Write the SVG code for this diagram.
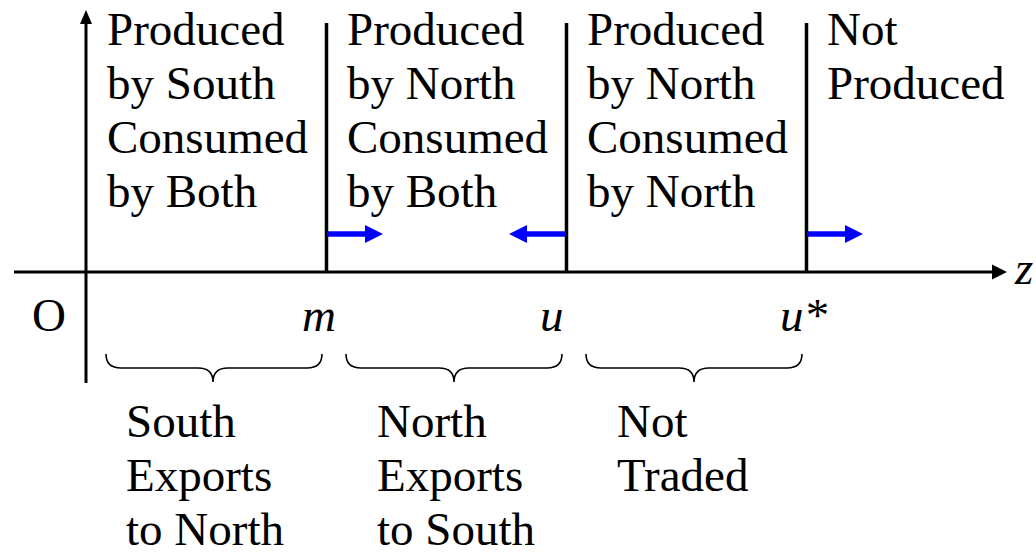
<svg xmlns="http://www.w3.org/2000/svg" width="1036" height="556" viewBox="0 0 1036 556">
<style>
text{font-family:"Liberation Serif","Times New Roman",serif;font-size:47px;fill:#000}
.it{font-style:italic}
.ax{stroke:#000;stroke-width:3;fill:none}
.bd{stroke:#000;stroke-width:3.5;fill:none}
.bl{stroke:#0000ff;stroke-width:5.5;fill:none}
.br{stroke:#000;stroke-width:1.6;fill:none}
</style>
<rect width="1036" height="556" fill="#fff"/>
<g id="connectors">
<line class="ax" x1="14" y1="272" x2="994" y2="272"/>
<polygon points="992,264.5 1007,272 992,279.5" fill="#000"/>
<line class="ax" x1="86" y1="383" x2="86" y2="22"/>
<polygon points="80,24 86,10 92,24" fill="#000"/>
<line class="bd" x1="326.5" y1="23" x2="326.5" y2="272"/>
<line class="bd" x1="566.5" y1="23" x2="566.5" y2="272"/>
<line class="bd" x1="806.5" y1="23" x2="806.5" y2="272"/>
<line class="bl" x1="327" y1="234" x2="367" y2="234"/>
<polygon points="365,225 383,234 365,243" fill="#0000ff"/>
<line class="bl" x1="566" y1="234" x2="525" y2="234"/>
<polygon points="527,225 509,234 527,243" fill="#0000ff"/>
<line class="bl" x1="807" y1="234" x2="847" y2="234"/>
<polygon points="845,225 863,234 845,243" fill="#0000ff"/>
</g>
<g id="braces">
<path class="br" d="M106,354 Q106,368 121,368 L198,368 Q213,368 213,382 Q213,368 228,368 L307,368 Q322,368 322,354"/>
<path class="br" d="M346,354 Q346,368 361,368 L439,368 Q454,368 454,382 Q454,368 469,368 L547,368 Q562,368 562,354"/>
<path class="br" d="M586,354 Q586,368 601,368 L679,368 Q694,368 694,382 Q694,368 709,368 L787,368 Q802,368 802,354"/>
</g>
<g id="region1">
<text x="107" y="45">Produced</text>
<text x="107" y="99">by South</text>
<text x="107" y="153">Consumed</text>
<text x="107" y="207">by Both</text>
</g>
<g id="region2">
<text x="347" y="45">Produced</text>
<text x="347" y="99">by North</text>
<text x="347" y="153">Consumed</text>
<text x="347" y="207">by Both</text>
</g>
<g id="region3">
<text x="587" y="45">Produced</text>
<text x="587" y="99">by North</text>
<text x="587" y="153">Consumed</text>
<text x="587" y="207">by North</text>
</g>
<g id="region4">
<text x="827" y="45">Not</text>
<text x="827" y="99">Produced</text>
</g>
<g id="labels">
<text class="it" x="1015" y="284">z</text>
<text x="32" y="331">O</text>
<text class="it" x="302" y="331">m</text>
<text class="it" x="540" y="331">u</text>
<text class="it" x="780" y="331">u*</text>
</g>
<g id="trade1">
<text x="126" y="437">South</text>
<text x="126" y="491">Exports</text>
<text x="126" y="545">to North</text>
</g>
<g id="trade2">
<text x="377" y="437">North</text>
<text x="377" y="491">Exports</text>
<text x="377" y="545">to South</text>
</g>
<g id="trade3">
<text x="617" y="437">Not</text>
<text x="617" y="491">Traded</text>
</g>
</svg>
